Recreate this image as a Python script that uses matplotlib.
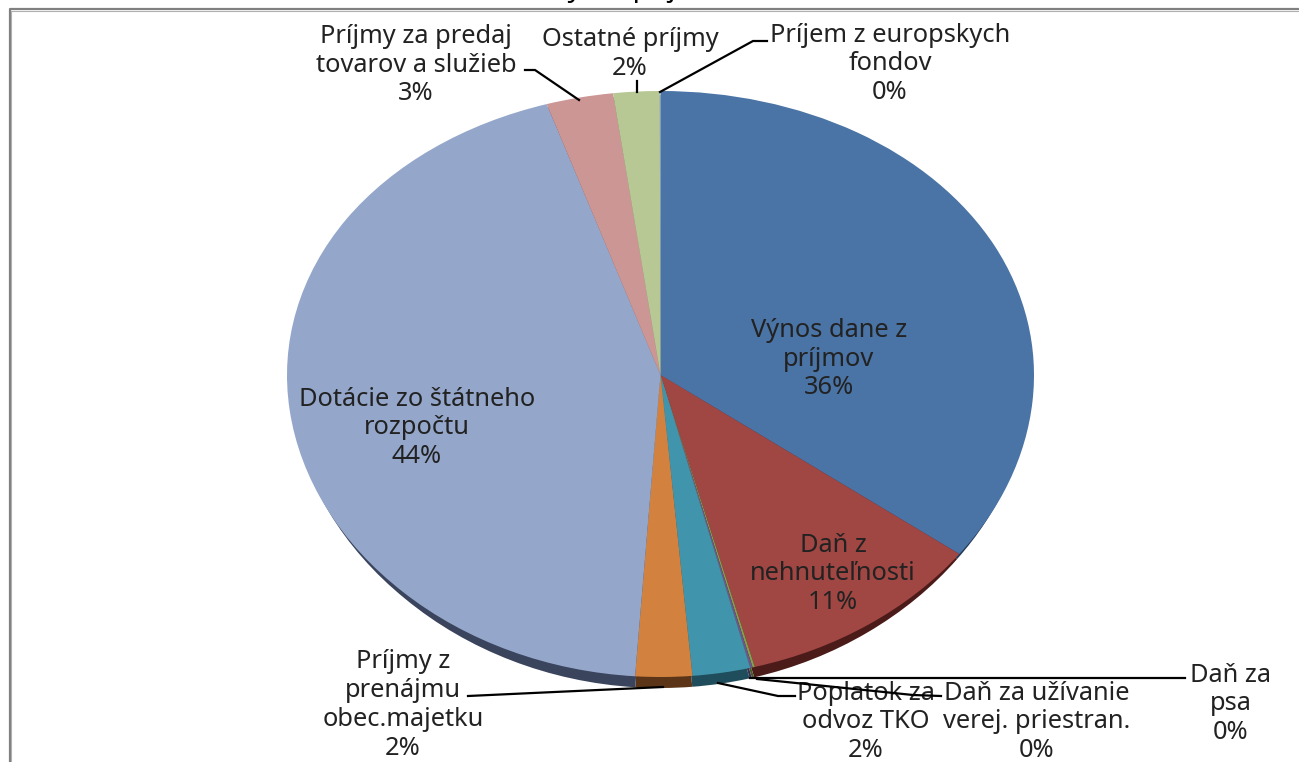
import matplotlib
matplotlib.use("Agg")
import matplotlib.pyplot as plt
from matplotlib.transforms import Transform
import numpy as np

categories = ["Výnos dane z\npríjmov", "Daň z\nnehnuteľnosti", "Daň za\npsa",
              "Daň za užívanie\nverej. priestran.", "Poplatok za\nodvoz TKO",
              "Príjmy z\nprenájmu\nobec.majetku", "Dotácie zo štátneho\nrozpočtu",
              "Príjmy za predaj\ntovarov a služieb", "Ostatné príjmy",
              "Príjem z europskych\nfondov"]
values = [35.25, 10.7, 0.1, 0.1, 2.5, 2.45, 44.0, 2.9, 2.0, 0.03]
percent_labels = ["36%", "11%", "0%", "0%", "2%", "2%", "44%", "3%", "2%", "0%"]
top_colors = ["#4A74A6", "#A04643", "#83A04A", "#6D5590", "#4094AB",
              "#D2823E", "#94A7CB", "#CC9694", "#B7C895", "#A9BEDD"]
side_colors = ["#233A56", "#4A1B19", "#4A5A2A", "#3A2D50", "#1F4D5C",
               "#5C3518", "#3A445C", "#6E4A49", "#68734F", "#5A6A80"]
title = "Výška príjmov"

plt.rcParams["font.family"] = ["Noto Sans", "DejaVu Sans"]
fig = plt.figure(figsize=(12.99, 7.62), dpi=100)
ax = fig.add_axes([0, 0, 1, 1])
ax.set_xlim(0, 1299)
ax.set_ylim(762, 0)
ax.axis("off")


class Tilt(Transform):
    """Maps the unit pie onto the tilted, slightly perspective ellipse."""
    input_dims = output_dims = 2

    def __init__(self, rx, a, b):
        super().__init__()
        self.rx, self.a, self.b = rx, a, b

    def transform_non_affine(self, v):
        v = np.asarray(v, float)
        return np.column_stack([660.5 + self.rx * v[:, 0],
                                375 - self.a * v[:, 1] + self.b * v[:, 1] ** 2])


def draw_pie(colors, tilt):
    wedges, _ = ax.pie(values, colors=colors, startangle=90, counterclock=False,
                       radius=1, frame=True)
    for w in wedges:
        w.set_transform(tilt + ax.transData)
        w.set_clip_on(False)
        w.set_linewidth(0)
    return wedges


draw_pie(side_colors, Tilt(371, 296.5, 16.5))
draw_pie(top_colors, Tilt(373.5, 293, 9))
ax.set_xlim(0, 1299)
ax.set_ylim(762, 0)
ax.set_aspect("auto")
ax.axis("off")

# Frame: dark core with a lighter inner shade
ax.plot([10, 10, 1299], [762, 9, 9], color="#808080", lw=1.6, solid_capstyle="butt")
ax.plot([11.5, 11.5, 1299], [762, 10.5, 10.5], color="#B0B0B0", lw=0.8, solid_capstyle="butt")

# Title cut by the top edge: only descenders remain visible
ax.text(551, -4, title, ha="left", va="baseline", fontsize=20,
        fontweight="bold", color="black", clip_on=True)

TXT = "#222222"
FS = 18.3
label_pos = [(829, 359), (833, 574), (1231, 704), (1037, 722), (866, 722),
             (403, 705), (417, 428), (416, 65), (630, 54), (890, 64)]
for name, pct, (x, y) in zip(categories, percent_labels, label_pos):
    ax.text(x, y, name + "\n" + pct, ha="center", va="center", fontsize=FS,
            color=TXT, linespacing=1.2, zorder=5)

leaders = [
    [(750, 678), (1185, 678)],
    [(757, 679), (913, 695), (941, 696)],
    [(718, 683), (778, 696), (795, 696)],
    [(663, 687), (468, 696)],
    [(579, 100), (535, 70), (525, 70)],
    [(637, 92), (637, 81)],
    [(660, 92), (753, 41), (767, 41)],
]
for pts in leaders:
    xs, ys = zip(*pts)
    ax.plot(xs, ys, color="black", lw=1.6, zorder=6, solid_joinstyle="miter")

fig.savefig("out.png", dpi=100, facecolor="white")
